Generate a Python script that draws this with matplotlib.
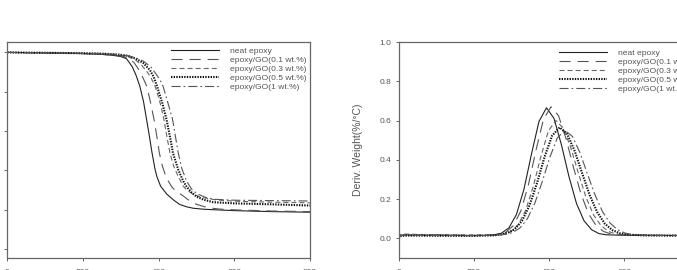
import matplotlib
matplotlib.use("Agg")
import matplotlib.pyplot as plt

plt.rcParams['font.family'] = ['Liberation Sans', 'DejaVu Sans']
plt.rcParams['lines.scale_dashes'] = False

labels = ["neat epoxy", "epoxy/GO(0.1 wt.%)", "epoxy/GO(0.3 wt.%)",
          "epoxy/GO(0.5 wt.%)", "epoxy/GO(1 wt.%)"]

# ---- TGA (weight %) ----
tga_T_neat = [0, 100, 200, 250, 280, 300, 315, 330, 340, 350, 360, 368, 375, 382, 390, 395, 405, 421, 440, 456, 475, 492, 520, 553, 600, 700, 800]
tga_W_neat = [100, 99.8, 99.4, 99.0, 98.5, 97.9, 96.8, 92.8, 88.5, 83.0, 75.0, 66.0, 58.0, 49.5, 41.0, 37.0, 32.0, 28.0, 24.8, 22.6, 21.4, 20.7, 20.2, 19.9, 19.5, 19.0, 18.7]

tga_T_01 = [0, 100, 200, 250, 280, 300, 320, 335, 350, 360, 369, 378, 388, 395, 402, 410, 421, 435, 448, 461, 480, 500, 530, 560, 600, 700, 800]
tga_W_01 = [100, 99.8, 99.4, 99.0, 98.6, 98.2, 97.2, 94.8, 90.5, 86.5, 82.6, 75.0, 65.7, 57.5, 48.7, 42.0, 36.0, 31.5, 29.0, 27.5, 24.8, 22.7, 21.0, 20.3, 19.9, 19.3, 19.0]

tga_T_03 = [0, 100, 200, 250, 280, 300, 320, 340, 355, 370, 380, 391, 400, 407, 414, 422, 430, 440, 452, 465, 474, 490, 510, 550, 600, 700, 800]
tga_W_03 = [100, 99.8, 99.5, 99.2, 98.9, 98.5, 97.8, 96.0, 93.5, 90.0, 87.0, 82.6, 77.0, 72.0, 65.7, 57.0, 48.7, 42.0, 36.8, 32.0, 30.0, 28.0, 26.4, 25.0, 24.3, 23.8, 23.5]

tga_T_05 = [0, 100, 200, 250, 280, 300, 320, 340, 360, 377, 387, 396, 410, 421, 430, 438, 452, 465, 474, 487, 500, 520, 544, 600, 700, 800]
tga_W_05 = [100, 99.8, 99.6, 99.4, 99.1, 98.8, 98.2, 96.8, 94.5, 91.0, 87.5, 82.6, 74.0, 65.7, 57.0, 48.7, 40.2, 34.5, 31.7, 28.8, 26.6, 25.0, 23.8, 23.2, 22.7, 22.1]

tga_T_1 = [0, 100, 200, 250, 280, 300, 320, 340, 360, 380, 395, 405, 412, 425, 437, 445, 452, 461, 474, 487, 500, 520, 544, 600, 700, 800]
tga_W_1 = [100, 99.8, 99.6, 99.4, 99.1, 98.8, 98.3, 97.2, 95.5, 92.5, 88.5, 85.5, 82.6, 74.0, 65.7, 56.5, 48.7, 41.0, 34.5, 30.5, 28.3, 26.5, 25.3, 24.8, 24.6, 24.4]

# ---- DTG (%/°C) ----
dtg_T_neat = [0, 5, 20, 50, 100, 150, 200, 233, 253, 273, 293, 313, 333, 353, 373, 393, 413, 433, 453, 473, 493, 513, 533, 553, 600, 700, 800]
dtg_D_neat = [0.0, 0.015, 0.018, 0.016, 0.017, 0.015, 0.014, 0.015, 0.018, 0.026, 0.053, 0.121, 0.249, 0.428, 0.595, 0.665, 0.611, 0.475, 0.313, 0.177, 0.089, 0.044, 0.024, 0.018, 0.016, 0.015, 0.014]

dtg_T_01 = [0, 5, 20, 50, 100, 150, 200, 245, 265, 285, 305, 325, 345, 365, 385, 405, 425, 445, 465, 485, 505, 525, 545, 565, 585, 650, 700, 800]
dtg_D_01 = [0.0, 0.016, 0.019, 0.017, 0.016, 0.016, 0.015, 0.016, 0.019, 0.031, 0.065, 0.140, 0.273, 0.448, 0.606, 0.670, 0.625, 0.508, 0.360, 0.225, 0.125, 0.065, 0.035, 0.022, 0.017, 0.016, 0.015, 0.015]

dtg_T_03 = [0, 5, 20, 50, 100, 150, 200, 258, 278, 298, 318, 338, 358, 378, 398, 418, 438, 458, 478, 498, 518, 538, 558, 578, 598, 650, 700, 800]
dtg_D_03 = [0.0, 0.020, 0.022, 0.020, 0.019, 0.018, 0.017, 0.018, 0.021, 0.034, 0.070, 0.144, 0.265, 0.416, 0.547, 0.600, 0.561, 0.460, 0.331, 0.210, 0.120, 0.065, 0.035, 0.022, 0.018, 0.016, 0.015, 0.015]

dtg_T_05 = [0, 5, 20, 50, 100, 150, 200, 248, 268, 288, 308, 328, 348, 368, 388, 408, 428, 448, 468, 488, 508, 528, 548, 568, 588, 608, 650, 700, 800]
dtg_D_05 = [0.0, 0.012, 0.014, 0.014, 0.013, 0.013, 0.013, 0.015, 0.018, 0.026, 0.046, 0.089, 0.168, 0.283, 0.415, 0.523, 0.565, 0.532, 0.445, 0.331, 0.220, 0.133, 0.075, 0.042, 0.026, 0.019, 0.015, 0.014, 0.013]

dtg_T_1 = [0, 5, 20, 50, 100, 150, 200, 262, 282, 302, 322, 342, 362, 382, 402, 422, 442, 462, 482, 502, 522, 542, 562, 582, 602, 622, 650, 700, 800]
dtg_D_1 = [0.0, 0.014, 0.016, 0.015, 0.015, 0.014, 0.014, 0.016, 0.020, 0.029, 0.052, 0.099, 0.179, 0.290, 0.413, 0.512, 0.550, 0.519, 0.437, 0.328, 0.222, 0.136, 0.078, 0.044, 0.027, 0.019, 0.016, 0.015, 0.015]

tga_T = [tga_T_neat, tga_T_01, tga_T_03, tga_T_05, tga_T_1]
tga_W = [tga_W_neat, tga_W_01, tga_W_03, tga_W_05, tga_W_1]
dtg_T = [dtg_T_neat, dtg_T_01, dtg_T_03, dtg_T_05, dtg_T_1]
dtg_D = [dtg_D_neat, dtg_D_01, dtg_D_03, dtg_D_05, dtg_D_1]

styles = [
    dict(color='#222222', lw=0.8, linestyle='-'),
    dict(color='#555555', lw=0.8, linestyle=(0, (8, 5))),
    dict(color='#666666', lw=0.8, linestyle=(0, (3.6, 2.2))),
    dict(color='#111111', lw=1.5, linestyle=(0, (1.0, 0.9))),
    dict(color='#555555', lw=0.8, linestyle=(0, (6.5, 2.2, 1.2, 2.2))),
]

W, H = 677, 270
fig = plt.figure(figsize=(W / 100, H / 100), dpi=100)
ax1 = fig.add_axes([7.3 / W, 12 / H, 302.7 / W, 216 / H])
ax2 = fig.add_axes([398.7 / W, 12 / H, 300.8 / W, 216 / H])

for T, Y, st, lab in zip(tga_T, tga_W, styles, labels):
    ax1.plot(T, Y, label=lab, **st)
for T, Y, st, lab in zip(dtg_T, dtg_D, styles, labels):
    ax2.plot(T, Y, label=lab, **st)

grey = '#555555'
for ax in (ax1, ax2):
    ax.set_xlim(0, 800)
    ax.set_xticks([0, 200, 400, 600, 800])
    for s in ax.spines.values():
        s.set_color('#666666')
        s.set_linewidth(0.9)
    ax.tick_params(direction='out', length=2.5, width=0.7, colors='#666666',
                   labelcolor=grey, labelsize=6, pad=3)
    ax.tick_params(axis='x', pad=5.5)

ax1.set_ylim(-4.6, 105.3)
ax1.set_yticks([0, 20, 40, 60, 80, 100])
ax1.tick_params(axis='y', labelleft=False)

ax2.set_ylim(-0.1, 1.0)
ax2.set_yticks([0.0, 0.2, 0.4, 0.6, 0.8, 1.0])
ax2.set_yticklabels(['0.0', '0.2', '0.4', '0.6', '0.8', '1.0'])
ax2.set_ylabel('Deriv. Weight(%/°C)', fontsize=7.5, color=grey, labelpad=12)

leg_kw = dict(loc='upper left', frameon=False, fontsize=6.1, handlelength=5.7,
              handletextpad=1.3, labelspacing=0.12, borderpad=0, borderaxespad=0,
              labelcolor=grey)
ax1.legend(bbox_to_anchor=(0.541, 0.977), **leg_kw)
ax2.legend(bbox_to_anchor=(0.533, 0.968), **leg_kw)

fig.savefig('out.png', dpi=100)
